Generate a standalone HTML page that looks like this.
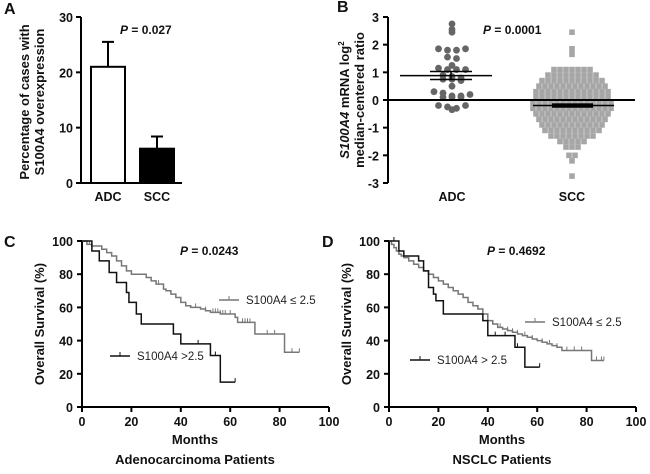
<!DOCTYPE html>
<html><head><meta charset="utf-8">
<style>
html,body{margin:0;padding:0;background:#fff;}
svg{display:block;font-family:"Liberation Sans",Arial,sans-serif;}
.tk{font-size:12.5px;font-weight:bold;fill:#111;}
.lab{font-size:13px;font-weight:bold;fill:#111;}
.pl{font-size:16px;font-weight:bold;fill:#111;}
.pv{font-size:12px;font-weight:bold;fill:#111;}
.leg{font-size:11.5px;fill:#222;}
</style></head>
<body>
<svg id="fig" width="650" height="474" viewBox="0 0 650 474"></svg>
<script>
// ---- Panel A data ----
const aCats = ["ADC","SCC"];
const aVals = [21, 6.2];
const aErr = [25.5, 8.4];
const aTicks = [0,10,20,30];
// ---- Panel B data ----
const bCats = ["ADC","SCC"];
const bTicks = [3,2,1,0,-1,-2,-3];
const adcVals = [2.75,2.45,2.55,1.85,1.8,1.8,1.85,1.55,1.5,1.25,1.15,1.1,1.1,1.1,0.9,0.85,0.8,0.75,0.75,0.7,0.5,0.3,0.25,0.15,0.15,0.1,0.1,0.1,0.2,-0.2,-0.25,-0.35,-0.3,-0.2];
const sccVals = [2.45,1.85,1.65,
1.1,1.1,1.1,1.1,1.1,1.1,1.1,
0.9,0.9,0.9,0.9,0.9,0.9,0.9,0.9,0.9,
0.7,0.7,0.7,0.7,0.7,0.7,0.7,0.7,0.7,0.7,0.7,
0.5,0.5,0.5,0.5,0.5,0.5,0.5,0.5,0.5,0.5,0.5,0.5,
0.3,0.3,0.3,0.3,0.3,0.3,0.3,0.3,0.3,0.3,0.3,0.3,0.3,
0.1,0.1,0.1,0.1,0.1,0.1,0.1,0.1,0.1,0.1,0.1,0.1,0.1,
-0.1,-0.1,-0.1,-0.1,-0.1,-0.1,-0.1,-0.1,-0.1,-0.1,-0.1,-0.1,-0.1,-0.1,
-0.3,-0.3,-0.3,-0.3,-0.3,-0.3,-0.3,-0.3,-0.3,-0.3,-0.3,-0.3,-0.3,-0.3,
-0.5,-0.5,-0.5,-0.5,-0.5,-0.5,-0.5,-0.5,-0.5,-0.5,-0.5,-0.5,-0.5,
-0.7,-0.7,-0.7,-0.7,-0.7,-0.7,-0.7,-0.7,-0.7,-0.7,-0.7,-0.7,
-0.9,-0.9,-0.9,-0.9,-0.9,-0.9,-0.9,-0.9,-0.9,-0.9,-0.9,
-1.1,-1.1,-1.1,-1.1,-1.1,-1.1,-1.1,-1.1,-1.1,-1.1,
-1.3,-1.3,-1.3,-1.3,-1.3,-1.3,-1.3,-1.3,
-1.5,-1.5,-1.5,-1.5,-1.5,
-1.7,-1.7,-1.7,-2.0,-2.0,-2.2,-2.75];
const adcMean = 0.88, adcSem = [0.74,1.03];
const sccMean = -0.2, sccSem = [-0.28,-0.12];
// ---- Panel C data ----
const kmTicksX = [0,20,40,60,80,100];
const kmTicksY = [0,20,40,60,80,100];
const cLowT = [2,4,8,10,12,14,16,18,20,26,28,30,33,34,36,38,40,42,44,48,50,52,56,62,63,70,82];
const cLowS = [98,97,95,93,91,88,85,82,80,78,76,74,71,70,68,66,63,61,60,59,58,57,56,54,51,44,33];
const cLowEnd = 88;
const cLowCens = [3,30,31,38,46,50,53,54,55,56,57,58,60,65,66,67,68,75,78,85,88];
const cHighT = [4,7,11,14,18,19,22,24,37,40,52,56];
const cHighS = [94,88,81,75,69,63,56,50,44,38,31,15];
const cHighEnd = 62;
const cHighCens = [47,54,62];
// ---- Panel D data ----
const dLowT = [1,2,3,4,5,6,8,10,12,14,16,18,20,22,24,26,28,30,32,34,36,38,40,42,44,46,48,50,52,54,56,58,60,62,64,66,68,70,82];
const dLowS = [98,96,94,92,91,90,88,86,84,82,80,78,76,74,72,70,68,66,63,61,59,56,52,50,48,47,46,45,44,43,42,41,40,39,38,37,36,34,28];
const dLowEnd = 87;
const dLowCens = [30,32,34,36,38,42,45,48,50,52,55,58,62,65,68,72,75,78,84,86,87];
const dHighT = [4,6,12,14,16,18,19,22,38,40,51,55];
const dHighS = [94,91,88,82,72,68,64,56,52,43,36,24];
const dHighEnd = 61;
const dHighCens = [2,43,47,52,61];

const NS="http://www.w3.org/2000/svg";
const svg=document.getElementById('fig');
function el(tag,attrs,parent,text){const e=document.createElementNS(NS,tag);for(const k in attrs)e.setAttribute(k,attrs[k]);if(text!==undefined)e.textContent=text;(parent||svg).appendChild(e);return e;}
function grp(name){const g=el('g',{});return g;}

[["A",4,14],["B",337,12],["C",4,247],["D",322,247]].forEach(p=>{
  const t=el('text',{x:p[1],y:p[2],class:'pl'},svg,p[0]);
  
  
});

// ===== Panel A =====
(function(){
  const g=grp('panel-a-bar-chart');
  const x0=81,y0=183,yTop=17,xEnd=182;
  const y=v=>y0-(v/30)*(y0-yTop);
  const cx=[108,157];
  el('line',{x1:x0,y1:yTop,x2:x0,y2:y0,stroke:'#000','stroke-width':2},g);
  el('line',{x1:x0,y1:y0,x2:xEnd,y2:y0,stroke:'#000','stroke-width':2},g);
  aTicks.forEach(v=>{
    el('line',{x1:x0-5,y1:y(v),x2:x0,y2:y(v),stroke:'#000','stroke-width':2},g);
    const t=el('text',{x:x0-8,y:y(v)+5,class:'tk','text-anchor':'end'},g,v);
    
    
  });
  aVals.forEach((v,i)=>{
    const eb=el('path',{d:`M${cx[i]},${y(v)}V${y(aErr[i])}M${cx[i]-6},${y(aErr[i])}H${cx[i]+6}`,stroke:'#000','stroke-width':2,fill:'none'},g);
    
    
    const r=el('rect',{x:cx[i]-17,y:y(v),width:34,height:y0-y(v),fill:i?'#000':'#fff',stroke:'#000','stroke-width':2},g);
    
    
    const t=el('text',{x:cx[i],y:201,class:'tk','text-anchor':'middle'},g,aCats[i]);
    
    
  });
  const p=el('text',{x:120,y:34,class:'pv'},g);
  
  
  el('tspan',{'font-style':'italic'},p,'P');el('tspan',{},p,' = 0.027');
  const yt=el('text',{transform:'translate(33,102) rotate(-90)',class:'lab','text-anchor':'middle','font-weight':'normal'},g);
  
  
  el('tspan',{x:0,dy:-4},yt,'Percentage of cases with');
  el('tspan',{x:0,dy:15},yt,'S100A4 overexpression');
})();

// ===== Panel B =====
(function(){
  const g=grp('panel-b-scatter');
  const x0=388,yT=17,yB=183;
  const y=v=>100-v*((yB-yT)/6);
  el('line',{x1:x0,y1:yT,x2:x0,y2:yB,stroke:'#000','stroke-width':2},g);
  bTicks.forEach(v=>{
    el('line',{x1:x0-5,y1:y(v),x2:x0,y2:y(v),stroke:'#000','stroke-width':2},g);
    const t=el('text',{x:x0-9,y:y(v)+5,class:'tk','text-anchor':'end'},g,v);
    
    
  });
  const centers=[452,572];
  bCats.forEach((c,i)=>{
    const t=el('text',{x:centers[i],y:201,class:'tk','text-anchor':'middle'},g,c);
    
    
  });
  function swarm(vals,cx,step,bin){
    const rows={};
    vals.forEach(v=>{const k=String(Math.floor(v/bin+0.5+1e-9));(rows[k]=rows[k]||[]).push(v);});
    const out=[];
    Object.keys(rows).forEach(k=>{const r=rows[k];r.forEach((v,j)=>{out.push([cx+(j-(r.length-1)/2)*step,v]);});});
    return out;
  }
  function swarmExact(vals,cx,step){
    const rows={};
    vals.forEach(v=>{const k=v.toFixed(2);(rows[k]=rows[k]||[]).push(v);});
    const out=[];
    Object.keys(rows).forEach(k=>{const r=rows[k];r.forEach((v,j)=>{out.push([cx+(j-(r.length-1)/2)*step,v]);});});
    return out;
  }
  swarmExact(sccVals,centers[1],6).forEach(p=>{
    const r=el('rect',{x:p[0]-2.8,y:y(p[1])-2.8,width:5.6,height:5.6,fill:'#a6a6a6'},g);
    
    
  });
  swarm(adcVals,centers[0],9,0.22).forEach(p=>{
    const c=el('circle',{cx:p[0],cy:y(p[1]),r:3.4,fill:'#666'},g);
    
    
  });
  el('line',{x1:x0,y1:y(0),x2:635,y2:y(0),stroke:'#000','stroke-width':2},g);
  el('line',{x1:400,y1:y(adcMean),x2:492,y2:y(adcMean),stroke:'#000','stroke-width':1.5},g);
  el('path',{d:`M430,${y(adcSem[0])}H472M430,${y(adcSem[1])}H472M451,${y(adcSem[0])}V${y(adcSem[1])}`,stroke:'#000','stroke-width':1.5,fill:'none'},g);
  el('line',{x1:533,y1:y(sccMean),x2:614,y2:y(sccMean),stroke:'#000','stroke-width':1.5},g);
  el('rect',{x:552,y:y(sccSem[1]),width:41,height:y(sccSem[0])-y(sccSem[1]),fill:'#000'},g);
  const p=el('text',{x:483,y:34,class:'pv'},g);
  
  
  el('tspan',{'font-style':'italic'},p,'P');el('tspan',{},p,' = 0.0001');
  const yt=el('text',{transform:'translate(351,100) rotate(-90)',class:'lab','text-anchor':'middle','font-weight':'normal'},g);
  
  
  el('tspan',{x:0,dy:-2,'font-style':'italic'},yt,'S100A4');
  el('tspan',{},yt,' mRNA log');
  el('tspan',{'font-size':'8px',dy:-5},yt,'2');
  el('tspan',{x:0,dy:20},yt,'median-centered ratio');
})();

// ===== KM panels =====
function km(name,x0,pval,title,series,legends){
  const g=grp(name);
  const y0=407,yTop=241,w=247;
  const x=t=>x0+t*w/100, y=s=>y0-s*(y0-yTop)/100;
  el('line',{x1:x0,y1:yTop,x2:x0,y2:y0,stroke:'#000','stroke-width':2},g);
  el('line',{x1:x0,y1:y0,x2:x0+w,y2:y0,stroke:'#000','stroke-width':2},g);
  kmTicksY.forEach(v=>{
    el('line',{x1:x0-5,y1:y(v),x2:x0,y2:y(v),stroke:'#000','stroke-width':2},g);
    const t=el('text',{x:x0-9,y:y(v)+5,class:'tk','text-anchor':'end'},g,v);
    
    
  });
  kmTicksX.forEach(v=>{
    el('line',{x1:x(v),y1:y0,x2:x(v),y2:y0+5,stroke:'#000','stroke-width':2},g);
    const t=el('text',{x:x(v),y:426,class:'tk','text-anchor':'middle'},g,v);
    
    
  });
  series.forEach(s=>{
    let d=`M${x(0)},${y(100)}`;
    s.t.forEach((t,i)=>{d+=`H${x(t)}V${y(s.s[i])}`;});
    d+=`H${x(s.end)}`;
    const pth=el('path',{d:d,stroke:s.c,'stroke-width':1.5,fill:'none'},g);
    
    
    s.cens.forEach(ct=>{
      let sv=100;s.t.forEach((t,i)=>{if(t<=ct)sv=s.s[i];});
      const tk=el('line',{x1:x(ct),y1:y(sv),x2:x(ct),y2:y(sv)-4,stroke:s.c,'stroke-width':1},g);
      
      
    });
  });
  legends.forEach(L=>{
    const lg=el('g',{},g);
    
    
    el('line',{x1:L.x,y1:L.y,x2:L.x+20,y2:L.y,stroke:L.c,'stroke-width':1.5},lg);
    el('line',{x1:L.x+10,y1:L.y,x2:L.x+10,y2:L.y-4,stroke:L.c,'stroke-width':1},lg);
    el('text',{x:L.x+27,y:L.y+4,class:'leg'},lg,L.text);
  });
  const p=el('text',{x:x0+98,y:255,class:'pv'},g);
  
  
  el('tspan',{'font-style':'italic'},p,'P');el('tspan',{},p,' = '+pval);
  const xt=el('text',{x:x0+113,y:444,class:'lab','text-anchor':'middle'},g,'Months');
  
  
  const tt=el('text',{x:x0+113,y:464,class:'lab','text-anchor':'middle'},g,title);
  
  
  const yt=el('text',{transform:`translate(${x0-38},324) rotate(-90)`,class:'lab','text-anchor':'middle'},g,'Overall Survival (%)');
  
  
}
km('panel-c-km',82,'0.0243','Adenocarcinoma Patients',
 [{name:'low-s100a4-curve',t:cLowT,s:cLowS,end:cLowEnd,cens:cLowCens,c:'#777'},
  {name:'high-s100a4-curve',t:cHighT,s:cHighS,end:cHighEnd,cens:cHighCens,c:'#111'}],
 [{name:'legend-low',x:219,y:300,c:'#777',text:'S100A4 \u2264 2.5'},
  {name:'legend-high',x:110,y:356,c:'#111',text:'S100A4 >2.5'}]);
km('panel-d-km',389,'0.4692','NSCLC Patients',
 [{name:'low-s100a4-curve',t:dLowT,s:dLowS,end:dLowEnd,cens:dLowCens,c:'#777'},
  {name:'high-s100a4-curve',t:dHighT,s:dHighS,end:dHighEnd,cens:dHighCens,c:'#111'}],
 [{name:'legend-low',x:525,y:322,c:'#777',text:'S100A4 \u2264 2.5'},
  {name:'legend-high',x:410,y:360,c:'#111',text:'S100A4 > 2.5'}]);
</script>
</body></html>
